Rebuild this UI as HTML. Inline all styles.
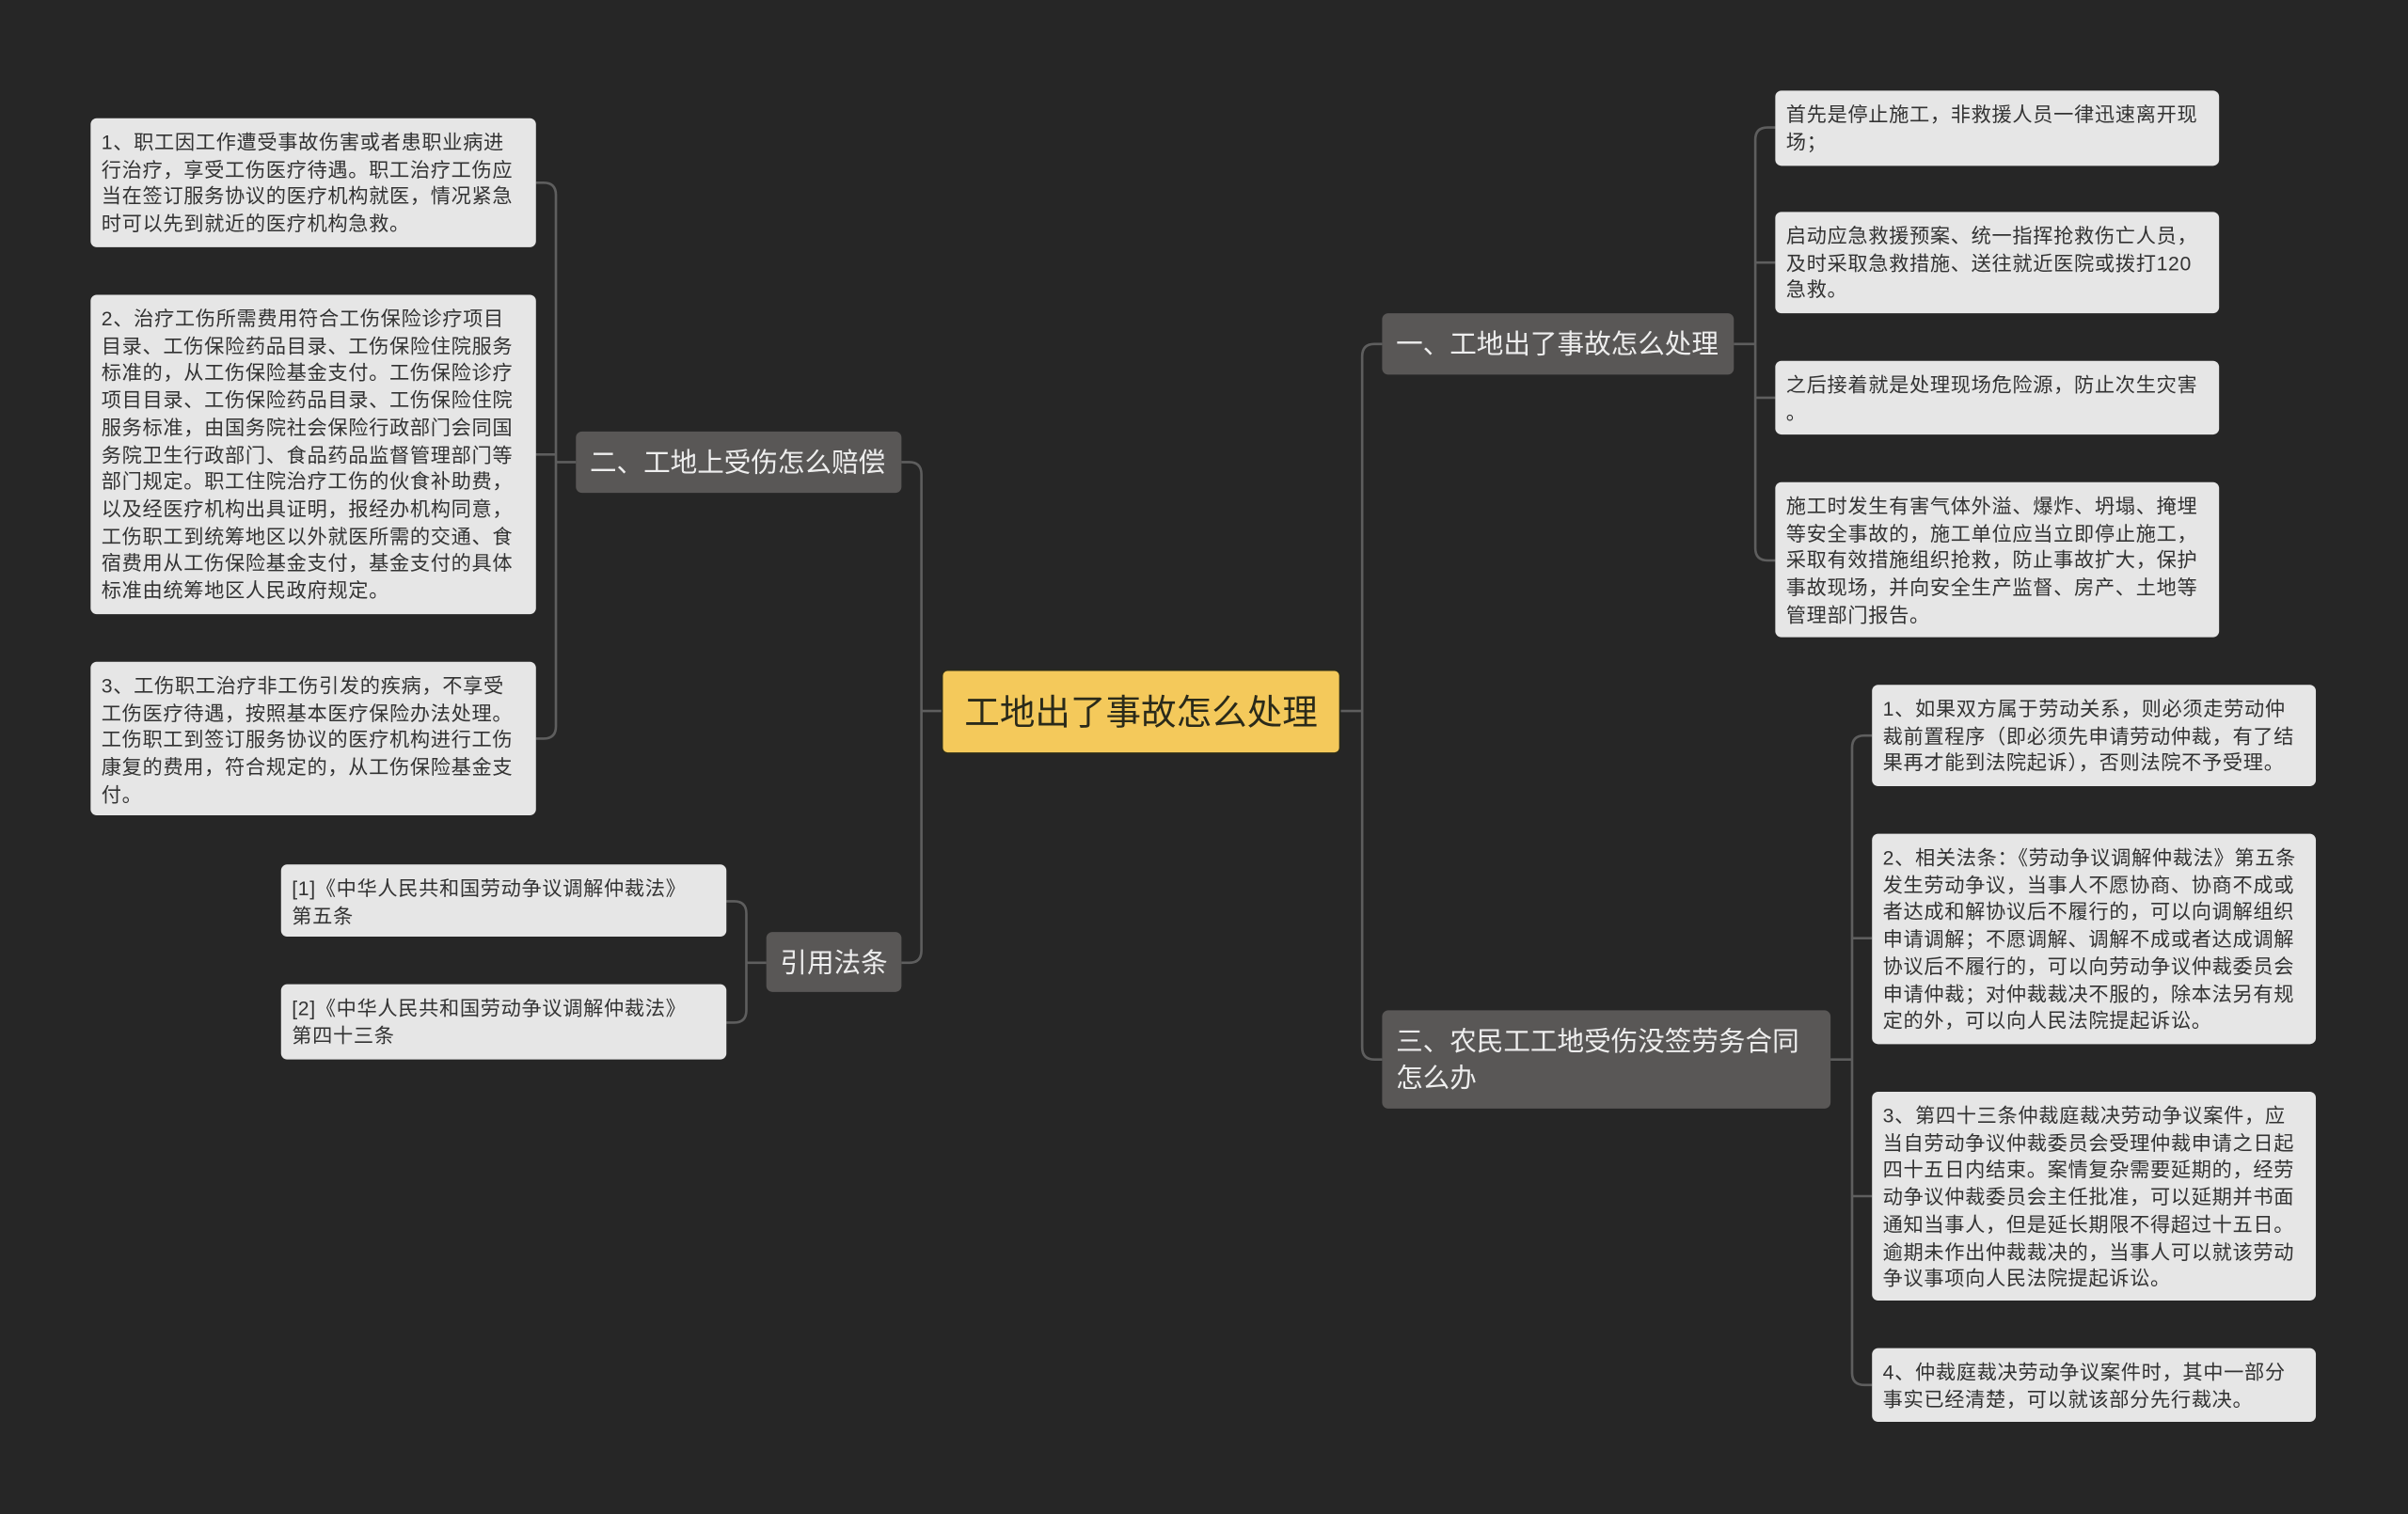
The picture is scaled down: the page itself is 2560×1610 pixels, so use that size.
<!DOCTYPE html>
<html><head><meta charset="utf-8"><style>
html,body{margin:0;padding:0;background:#262626;overflow:hidden}
#w{position:absolute;left:0;top:0;width:1568px;height:986px;transform:scale(1.63265,1.63286);transform-origin:0 0;font-family:"Liberation Sans","Noto Sans CJK SC",sans-serif}
.n{position:absolute;box-sizing:border-box;border-radius:4px}
.l{background:#e6e6e6;color:#333;font-size:13px;letter-spacing:0.4px;line-height:17.7px;padding:7px 7px;}
.lf{padding-right:12px}
.b{background:#595756;color:#eee;font-size:17.5px;line-height:24px;padding:8px 9px}
.c{background:#f4c95b;color:#2a2a1a;font-size:23px;line-height:54px;text-align:center;border:1px solid #2a2a1a}
svg{position:absolute;left:0;top:0}
</style></head><body><div id="w">
<svg width="1568" height="986" fill="none" stroke="#5e5e5e" stroke-width="1.6">
<path d="M873 463H887M887 463V232Q887 224 895 224H900M887 463V682Q887 690 895 690H900"/>
<path d="M1129 224H1143M1143 91Q1143 83 1151 83H1156M1143 91V357Q1143 365 1151 365H1156M1143 171H1156M1143 259H1156"/>
<path d="M1192 690H1206M1206 487Q1206 479 1214 479H1219M1206 487V894Q1206 902 1214 902H1219M1206 611H1219M1206 779H1219"/>
<path d="M613 463H600M600 309Q600 301 592 301H587M600 309V619Q600 627 592 627H587"/>
<path d="M375 301H362M362 127Q362 119 354 119H349M362 127V473Q362 481 354 481H349M362 296H349"/>
<path d="M499 627H486M486 595Q486 587 478 587H473M486 595V658Q486 666 478 666H473"/>
</svg>
<div class="n c" style="left:613px;top:436px;width:260px;height:55px">工地出了事故怎么处理</div>
<div class="n b" style="left:900px;top:204px;width:229px;height:40px">一、工地出了事故怎么处理</div>
<div class="n b" style="left:900px;top:658px;width:292px;height:64px">三、农民工工地受伤没签劳务合同怎么办</div>
<div class="n b" style="left:375px;top:281px;width:212px;height:40px">二、工地上受伤怎么赔偿</div>
<div class="n b" style="left:499px;top:607px;width:88px;height:39px">引用法条</div>
<div class="n l" style="left:1156px;top:59px;width:289px;height:49px">首先是停止施工，非救援人员一律迅速离开现场；</div>
<div class="n l" style="left:1156px;top:138px;width:289px;height:66px">启动应急救援预案、统一指挥抢救伤亡人员，及时采取急救措施、送往就近医院或拨打120急救。</div>
<div class="n l" style="left:1156px;top:235px;width:289px;height:48px">之后接着就是处理现场危险源，防止次生灾害<br>。</div>
<div class="n l" style="left:1156px;top:314px;width:289px;height:101px">施工时发生有害气体外溢、爆炸、坍塌、掩埋等安全事故的，施工单位应当立即停止施工，采取有效措施组织抢救，防止事故扩大，保护事故现场，并向安全生产监督、房产、土地等管理部门报告。</div>
<div class="n l" style="left:1219px;top:446px;width:289px;height:66px">1、如果双方属于劳动关系，则必须走劳动仲裁前置程序（即必须先申请劳动仲裁，有了结果再才能到法院起诉），否则法院不予受理。</div>
<div class="n l" style="left:1219px;top:543px;width:289px;height:137px">2、相关法条：《劳动争议调解仲裁法》第五条发生劳动争议，当事人不愿协商、协商不成或者达成和解协议后不履行的，可以向调解组织申请调解；不愿调解、调解不成或者达成调解协议后不履行的，可以向劳动争议仲裁委员会申请仲裁；对仲裁裁决不服的，除本法另有规定的外，可以向人民法院提起诉讼。</div>
<div class="n l" style="left:1219px;top:711px;width:289px;height:136px">3、第四十三条仲裁庭裁决劳动争议案件，应当自劳动争议仲裁委员会受理仲裁申请之日起四十五日内结束。案情复杂需要延期的，经劳动争议仲裁委员会主任批准，可以延期并书面通知当事人，但是延长期限不得超过十五日。逾期未作出仲裁裁决的，当事人可以就该劳动争议事项向人民法院提起诉讼。</div>
<div class="n l" style="left:1219px;top:878px;width:289px;height:48px">4、仲裁庭裁决劳动争议案件时，其中一部分事实已经清楚，可以就该部分先行裁决。</div>
<div class="n l lf" style="left:59px;top:77px;width:290px;height:84px">1、职工因工作遭受事故伤害或者患职业病进行治疗，享受工伤医疗待遇。职工治疗工伤应当在签订服务协议的医疗机构就医，情况紧急时可以先到就近的医疗机构急救。</div>
<div class="n l lf" style="left:59px;top:192px;width:290px;height:208px">2、治疗工伤所需费用符合工伤保险诊疗项目目录、工伤保险药品目录、工伤保险住院服务标准的，从工伤保险基金支付。工伤保险诊疗项目目录、工伤保险药品目录、工伤保险住院服务标准，由国务院社会保险行政部门会同国务院卫生行政部门、食品药品监督管理部门等部门规定。职工住院治疗工伤的伙食补助费，以及经医疗机构出具证明，报经办机构同意，工伤职工到统筹地区以外就医所需的交通、食宿费用从工伤保险基金支付，基金支付的具体标准由统筹地区人民政府规定。</div>
<div class="n l lf" style="left:59px;top:431px;width:290px;height:100px">3、工伤职工治疗非工伤引发的疾病，不享受工伤医疗待遇，按照基本医疗保险办法处理。工伤职工到签订服务协议的医疗机构进行工伤康复的费用，符合规定的，从工伤保险基金支付。</div>
<div class="n l" style="left:183px;top:563px;width:290px;height:47px">[1]《中华人民共和国劳动争议调解仲裁法》<br>第五条</div>
<div class="n l" style="left:183px;top:641px;width:290px;height:49px">[2]《中华人民共和国劳动争议调解仲裁法》<br>第四十三条</div>
</div></body></html>
